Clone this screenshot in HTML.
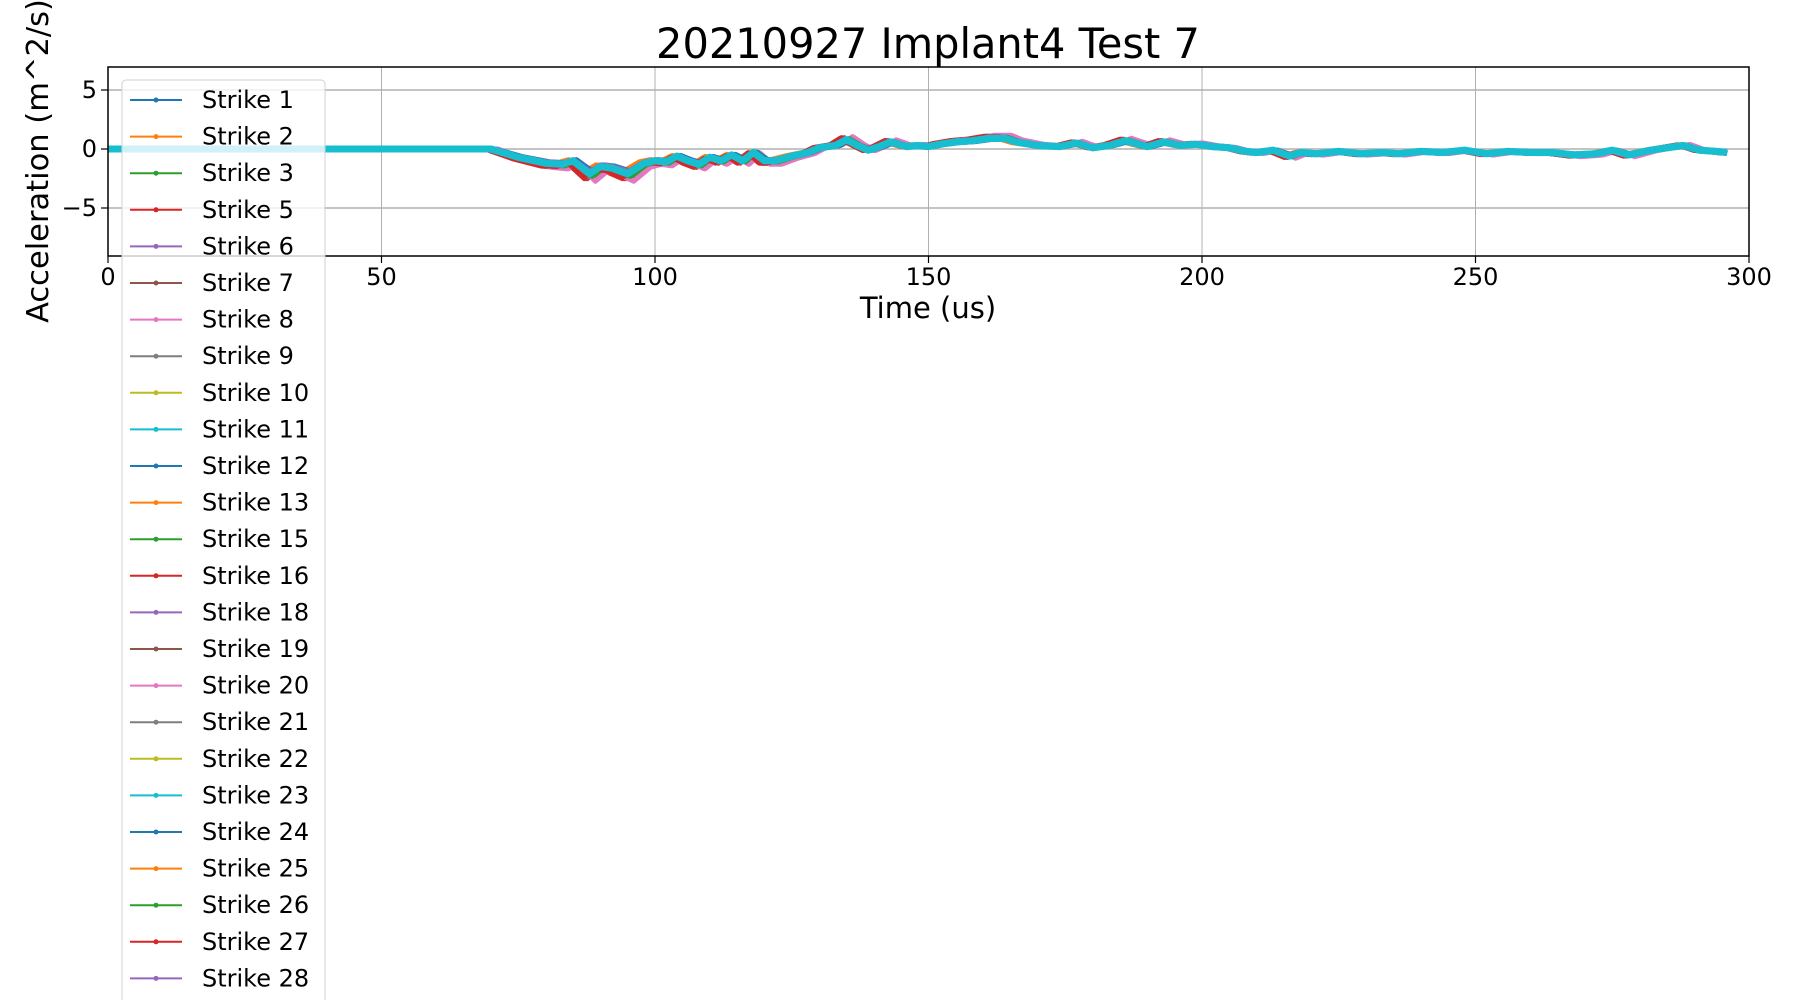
<!DOCTYPE html>
<html><head><meta charset="utf-8"><style>
html,body{margin:0;padding:0;background:#fff;}
svg{display:block;font-family:"DejaVu Sans","Liberation Sans",sans-serif;}
</style></head><body>
<svg id="chart" width="1800" height="1000" viewBox="0 0 1800 1000">
<text x="928" y="58" font-size="41.5" text-anchor="middle">20210927 Implant4 Test 7</text>
<g id="grid"></g>
<g id="series"></g>
<rect x="108" y="67" width="1641" height="189" fill="none" stroke="#000" stroke-width="1.5"/>
<g id="ticks"></g>
<text x="928" y="318" font-size="29" text-anchor="middle">Time (us)</text>
<text transform="translate(48,161) rotate(-90)" font-size="30.5" text-anchor="middle">Acceleration (m^2/s)</text>
<g id="legend"></g>
</svg>
<script>
const strikeLabels=["Strike 1","Strike 2","Strike 3","Strike 5","Strike 6","Strike 7","Strike 8","Strike 9","Strike 10","Strike 11","Strike 12","Strike 13","Strike 15","Strike 16","Strike 18","Strike 19","Strike 20","Strike 21","Strike 22","Strike 23","Strike 24","Strike 25","Strike 26","Strike 27","Strike 28"];
const baseTimes=[0,70,75,80,83,85,88,90,92,95,98,100,102,104,106,108,110,112,114,116,118,120,122,125,128,130,133,135,137,139,141,143,146,148,150,152,155,158,161,164,166,170,174,177,180,183,186,190,193,196,199,202,205,208,210,213,216,218,221,225,229,233,236,240,244,248,252,256,260,264,268,272,275,278,282,285,288,291,294,296];
const baseValues=[0,0,-0.7,-1.2,-1.3,-1.0,-2.1,-1.5,-1.6,-2.1,-1.2,-1.0,-1.1,-0.6,-1.0,-1.3,-0.7,-1.0,-0.5,-1.0,-0.3,-1.0,-1.0,-0.6,-0.3,0.1,0.3,0.8,0.3,-0.1,0.2,0.6,0.2,0.3,0.2,0.4,0.6,0.7,0.9,0.9,0.6,0.3,0.2,0.5,0.1,0.3,0.7,0.2,0.6,0.3,0.4,0.2,0.1,-0.2,-0.3,-0.1,-0.6,-0.3,-0.4,-0.2,-0.4,-0.3,-0.4,-0.2,-0.3,-0.1,-0.4,-0.2,-0.3,-0.3,-0.5,-0.4,-0.1,-0.5,-0.1,0.1,0.3,-0.1,-0.2,-0.3];
const strikeLags=[0.5,-0.8,1.0,-0.4,0.8,-1.1,1.3,-0.6,0.3,0,0.6,-0.3,0.9,-0.9,0.4,-0.5,1.1,-0.2,0.2,0,0.7,-0.7,0.5,-1.0,0.1];
const strikeGains=[1.1,0.9,1.05,1.2,0.95,1.15,1.25,1.1,1.0,1.0,0.9,1.05,1.1,1.2,1.0,1.15,1.3,1.1,1.0,1.0,0.95,1.05,1.1,1.15,0.9];
const xTicks=[0,50,100,150,200,250,300];
const yTicks=[-5,0,5];
const colors=["#1f77b4","#ff7f0e","#2ca02c","#d62728","#9467bd","#8c564b","#e377c2","#7f7f7f","#bcbd22","#17becf"];
const NS="http://www.w3.org/2000/svg";
const X=t=>108+(t/300)*1641;
const Y=v=>149-v*11.8;
function mk(tag,attrs,parent){const e=document.createElementNS(NS,tag);for(const k in attrs)e.setAttribute(k,attrs[k]);parent.appendChild(e);return e;}
const grid=document.getElementById('grid'),ticks=document.getElementById('ticks');
xTicks.forEach(t=>{
 const g=mk('line',{x1:X(t),x2:X(t),y1:67,y2:256,stroke:'#b0b0b0','stroke-width':1},grid);
 
 
 const tk=mk('line',{x1:X(t),x2:X(t),y1:256,y2:263,stroke:'#000','stroke-width':1.2},ticks);
 
 
 const lb=mk('text',{x:X(t),y:285,'font-size':24,'text-anchor':'middle'},ticks);lb.textContent=t;
 
 
});
yTicks.forEach(v=>{
 const g=mk('line',{x1:108,x2:1749,y1:Y(v),y2:Y(v),stroke:'#b0b0b0','stroke-width':1.5},grid);
 
 
 const tk=mk('line',{x1:101,x2:108,y1:Y(v),y2:Y(v),stroke:'#000','stroke-width':1.2},ticks);
 
 
 const lb=mk('text',{x:97,y:Y(v)+8,'font-size':24,'text-anchor':'end'},ticks);lb.textContent=v<0?'\u2212'+Math.abs(v):v;
 
 
});
const sg=document.getElementById('series');
const order=strikeLabels.map((_,i)=>i).filter(i=>colors[i%10]!=="#17becf").concat(strikeLabels.map((_,i)=>i).filter(i=>colors[i%10]==="#17becf"));
order.forEach(i=>{
 const pts=baseTimes.map((t,j)=>{const tt=j===0?0:Math.min(296,t+strikeLags[i]);const v=baseValues[j]*strikeGains[i];return X(tt).toFixed(1)+','+Y(v).toFixed(1);}).join(' ');
 const c=colors[i%10];
 const p=mk('polyline',{points:pts,fill:'none',stroke:c,'stroke-width':c==="#17becf"?7:5,'stroke-linejoin':'round'},sg);
 
 
});
const lg=document.getElementById('legend');
const box=mk('rect',{x:122,y:80,width:203,height:940,rx:4,fill:'rgba(255,255,255,0.8)',stroke:'#d0d0d0','stroke-width':1},lg);


strikeLabels.forEach((s,i)=>{
 const y=100+i*36.6;const c=colors[i%10];
 const g=mk('g',{},lg);
 
 
 mk('line',{x1:130,x2:182,y1:y,y2:y,stroke:c,'stroke-width':2},g);
 mk('circle',{cx:156,cy:y,r:2.5,fill:c},g);
 const t=mk('text',{x:202,y:y+8,'font-size':24},g);t.textContent=s;
});
</script>
</body></html>
